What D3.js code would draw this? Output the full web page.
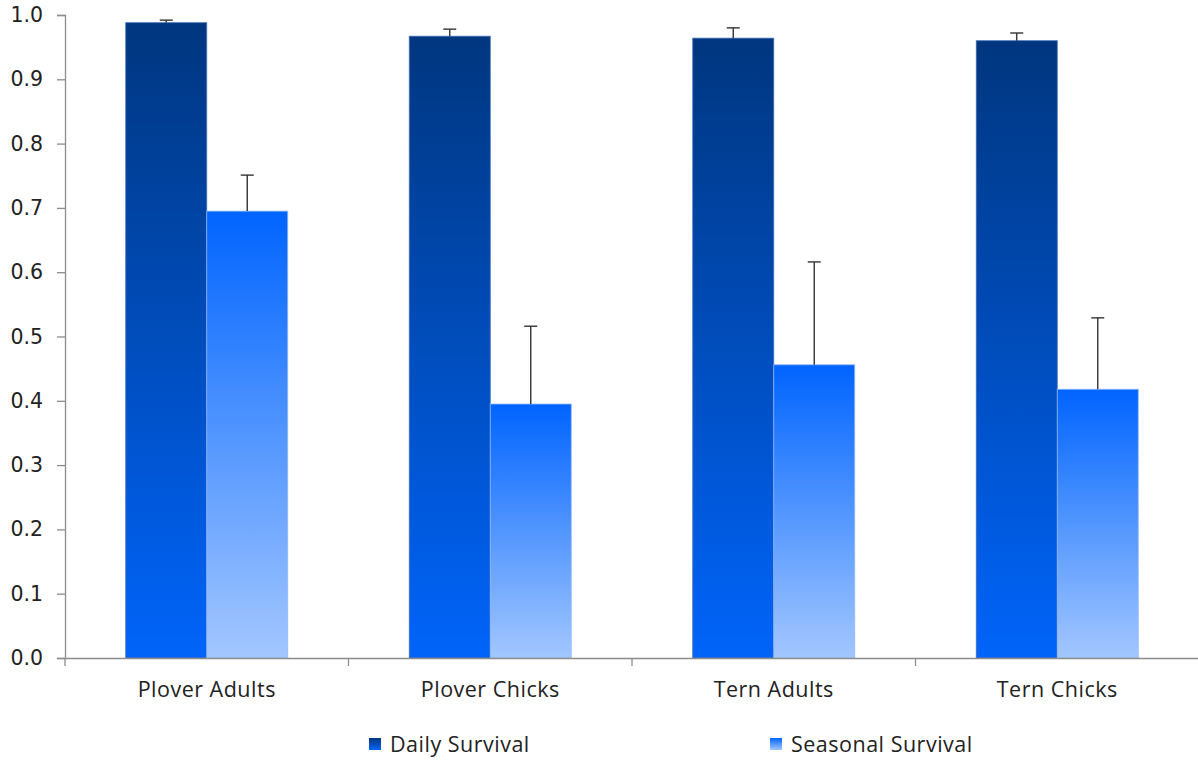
<!DOCTYPE html>
<html><head><meta charset="utf-8">
<script src="https://cdn.jsdelivr.net/npm/d3@7"></script>
<style>body{margin:0;background:#fff}svg{display:block}</style>
</head><body><svg id="c" width="1198" height="761"></svg>
<script>
const categories = ["Plover Adults","Plover Chicks","Tern Adults","Tern Chicks"];
const seriesNames = ["Daily Survival","Seasonal Survival"];
const dailyValues = [0.988, 0.967, 0.964, 0.960];
const dailyErrors = [0.004, 0.011, 0.016, 0.012];
const seasonalValues = [0.695, 0.395, 0.456, 0.418];
const seasonalErrors = [0.056, 0.121, 0.160, 0.111];
const yTicks = [0,0.1,0.2,0.3,0.4,0.5,0.6,0.7,0.8,0.9,1.0];

const svg = d3.select("#c");
const x0 = d3.scaleBand().domain(categories).range([65, 1199]).paddingInner(0).paddingOuter(0);
const x1 = d3.scaleBand().domain(seriesNames).range([0, x0.bandwidth()]).paddingInner(0).paddingOuter(0.75);
const y = d3.scaleLinear().domain([0,1]).range([658, 15]);

const defs = svg.append("defs");
const g1 = defs.append("linearGradient").attr("id","gDaily").attr("x1",0).attr("y1",0).attr("x2",0).attr("y2",1);
g1.append("stop").attr("offset","0%").attr("stop-color","#00367f");
g1.append("stop").attr("offset","100%").attr("stop-color","#0064fa");
const g2 = defs.append("linearGradient").attr("id","gSeas").attr("x1",0).attr("y1",0).attr("x2",0).attr("y2",1);
g2.append("stop").attr("offset","0%").attr("stop-color","#0064ff");
g2.append("stop").attr("offset","100%").attr("stop-color","#a3c7ff");
const fills = ["url(#gDaily)","url(#gSeas)"];
const strokes = ["#3f6fb8","#8fb8ff"];

const data = categories.map((c,i)=>({c, vals:[
  {s:seriesNames[0], v:dailyValues[i], e:dailyErrors[i], k:0},
  {s:seriesNames[1], v:seasonalValues[i], e:seasonalErrors[i], k:1}]}));

// axes
const yAxis = svg.append("g").attr("transform","translate(65,0)")
  .call(d3.axisLeft(y).tickValues(yTicks).tickFormat(d3.format(".1f")).tickSizeOuter(0).tickSize(8).tickPadding(14));
yAxis.select(".domain").attr("stroke","#8c8c8c").attr("stroke-width",1.3);
yAxis.selectAll(".tick line").attr("stroke","#8c8c8c").attr("stroke-width",1.3);
yAxis.selectAll("text").attr("font-family","DejaVu Sans, Verdana, sans-serif").attr("font-size",20.5).attr("fill","#222");

const groups = svg.append("g").selectAll("g").data(data).join("g")
  .attr("transform", d=>`translate(${x0(d.c)},0)`);
groups.selectAll("rect").data(d=>d.vals).join("rect")
  .attr("x", d=>x1(d.s)).attr("width", x1.bandwidth())
  .attr("y", d=>y(d.v)).attr("height", d=>y(0)-y(d.v))
  .attr("fill", d=>fills[d.k]).attr("stroke", d=>strokes[d.k]).attr("stroke-width",0.8);
// error bars
const eb = groups.selectAll("g.eb").data(d=>d.vals).join("g").attr("class","eb")
  .attr("stroke","#333").attr("stroke-width",1.4);
eb.append("line").attr("x1",d=>x1(d.s)+x1.bandwidth()/2).attr("x2",d=>x1(d.s)+x1.bandwidth()/2)
  .attr("y1",d=>y(d.v)).attr("y2",d=>y(d.v+d.e));
eb.append("line").attr("x1",d=>x1(d.s)+x1.bandwidth()/2-6.5).attr("x2",d=>x1(d.s)+x1.bandwidth()/2+6.5)
  .attr("y1",d=>y(d.v+d.e)).attr("y2",d=>y(d.v+d.e));

const xAxis = svg.append("g").attr("transform","translate(0,658)")
  .call(d3.axisBottom(x0).tickSize(0).tickPadding(24).tickSizeOuter(0));
xAxis.select(".domain").attr("stroke","#8c8c8c").attr("stroke-width",1.3);
xAxis.selectAll("text").attr("font-family","'Open Sans', Lato, sans-serif").attr("font-size",21.5)
  .attr("letter-spacing","0.5px").attr("fill","#222");
// category boundary ticks
const bounds = categories.map(c=>x0(c));
xAxis.selectAll("line.bt").data(bounds).join("line").attr("class","bt")
  .attr("x1",d=>d).attr("x2",d=>d).attr("y1",0).attr("y2",8).attr("stroke","#8c8c8c").attr("stroke-width",1.3);

// legend
const legX = [369, 770];
const leg = svg.append("g").selectAll("g").data(seriesNames).join("g")
  .attr("transform",(d,i)=>`translate(${legX[i]},738)`);
leg.append("rect").attr("width",12).attr("height",12).attr("fill",(d,i)=>fills[i]);
leg.append("text").attr("x",21).attr("y",14).text(d=>d)
  .attr("font-family","'Open Sans', Lato, sans-serif").attr("font-size",21.5)
  .attr("letter-spacing","0.5px").attr("fill","#222");
</script></body></html>
